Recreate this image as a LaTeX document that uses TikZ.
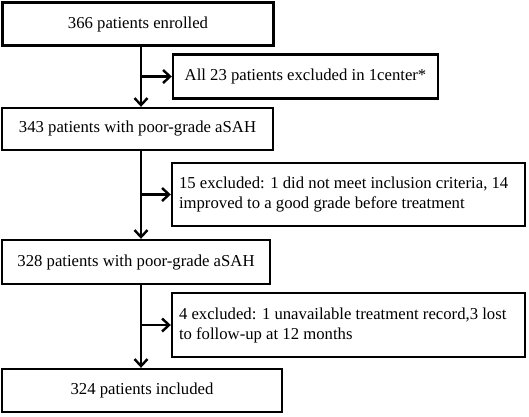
\documentclass[tikz,border=0pt]{standalone}
\usepackage{fontspec}
\setmainfont{Liberation Serif}
\usetikzlibrary{arrows.meta}
\begin{document}
\begin{tikzpicture}[x=1pt,y=-1pt,
  box/.style={draw,line width=2.4pt,inner sep=0pt,font=\fontsize{16.7}{20}\selectfont},
  btext/.style={inner sep=0pt,align=left,anchor=west,font=\fontsize{16.7}{20}\selectfont},
  conn/.style={line width=2.4pt,-{Straight Barb[length=7pt,width=13pt,line width=2.4pt]}}]
\useasboundingbox (0,0) rectangle (529,416);
\node[box,minimum width=271pt,minimum height=43pt] (b1) at (138,24) {366 patients enrolled};
\node[box,minimum width=265pt,minimum height=44pt] (b2) at (305.5,76.5) {All 23 patients excluded in 1center*};
\node[box,minimum width=271pt,minimum height=42pt] (b3) at (137.5,129) {343 patients with poor-grade aSAH};
\node[box,minimum width=353pt,minimum height=63pt] (b4) at (348.5,194.5) {};
\node[btext] (t4) at ([xshift=8pt]b4.west) {15 excluded: 1 did not meet inclusion criteria, 14\\improved to a good grade before treatment};
\node[box,minimum width=268pt,minimum height=44pt] (b5) at (136,262) {328 patients with poor-grade aSAH};
\node[box,minimum width=353pt,minimum height=64pt] (b6) at (348.5,325) {};
\node[btext] (t6) at ([xshift=8pt]b6.west) {4 excluded: 1 unavailable treatment record,3 lost\\to follow-up at 12 months};
\node[box,minimum width=280pt,minimum height=43pt] (b7) at (142,390.5) {324 patients included};
\coordinate (j1) at (141,76.5);
\coordinate (j2) at (141,194.5);
\coordinate (j3) at (141,325);
\draw[conn] (b1.south -| j1) -- (b3.north -| j1);
\draw[conn] (j1) -- (b2.west);
\draw[conn] (b3.south -| j2) -- (b5.north -| j2);
\draw[conn] (j2) -- (b4.west);
\draw[conn] (b5.south -| j3) -- (b7.north -| j3);
\draw[conn] (j3) -- (b6.west);
\end{tikzpicture}
\end{document}
